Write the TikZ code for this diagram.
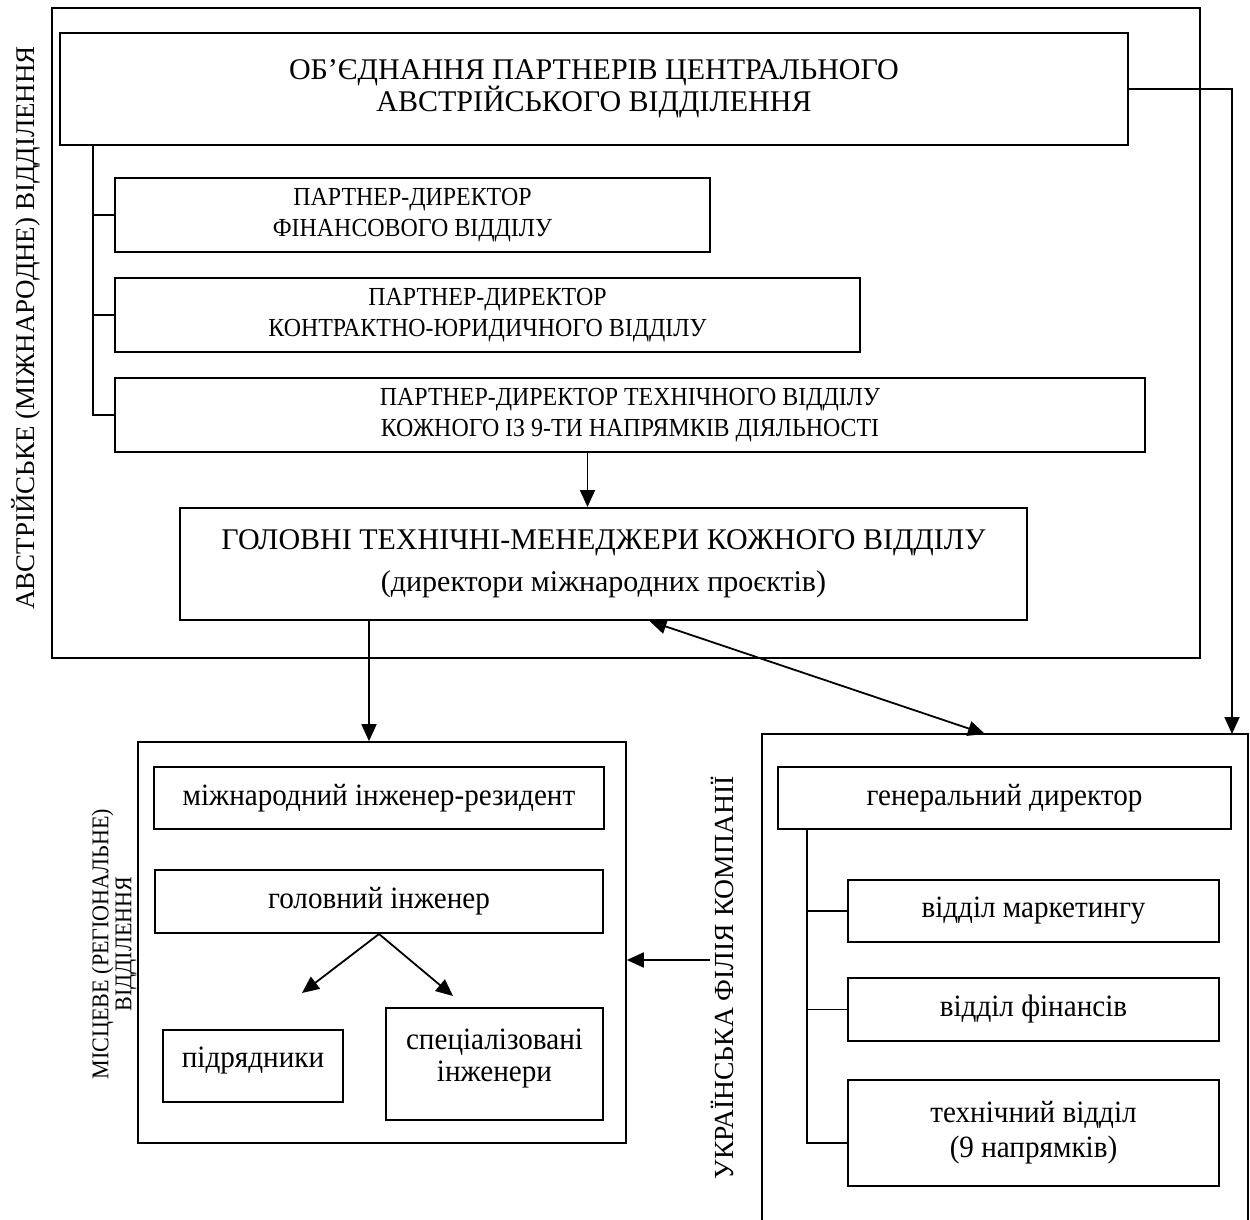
\documentclass[tikz,border=0pt]{standalone}
\usepackage{fontspec}
\setmainfont{Liberation Serif}
\newfontfamily\narrowfont[FakeStretch=0.92]{Liberation Serif}
\newfontfamily\condfont[FakeStretch=0.94]{Liberation Serif}
\usetikzlibrary{arrows.meta}

\tikzset{
  frame/.style = {draw, line width=0.8pt, inner sep=0pt},
  unit/.style = {draw, line width=1pt, inner sep=0pt, align=center},
  sidelabel/.style = {rotate=90, align=center, inner sep=0pt},
  >={Triangle[length=8.5pt, width=7.5pt]},
}

\begin{document}
\begin{tikzpicture}[x=0.5pt, y=-0.5pt, line width=0.9pt]
    \useasboundingbox (0,0) rectangle (1250,1220);

    % Austrian (international) branch
    \node[frame, minimum width=574pt, minimum height=325pt] (austria) at (626,333) {};
    \node[sidelabel, font=\fontsize{13.5}{15}\selectfont] (austrialabel) at (26,328) {АВСТРІЙСЬКЕ (МІЖНАРОДНЕ) ВІДДІЛЕННЯ};

    \node[unit, minimum width=534pt, minimum height=56pt, font=\fontsize{15}{16}\selectfont] (top) at (594,89)
        {ОБ’ЄДНАННЯ ПАРТНЕРІВ ЦЕНТРАЛЬНОГО\\АВСТРІЙСЬКОГО ВІДДІЛЕННЯ};

    % Partner-directors
    \node[unit, minimum width=297.5pt, minimum height=37pt, font=\narrowfont\fontsize{13}{15.5}\selectfont] (pfin) at (412.5,215)
        {ПАРТНЕР-ДИРЕКТОР\\ФІНАНСОВОГО ВІДДІЛУ};
    \node[unit, minimum width=372.5pt, minimum height=37pt, font=\narrowfont\fontsize{13}{15.5}\selectfont] (plaw) at (487.5,315)
        {ПАРТНЕР-ДИРЕКТОР\\КОНТРАКТНО-ЮРИДИЧНОГО ВІДДІЛУ};
    \node[unit, minimum width=515pt, minimum height=37pt, font=\narrowfont\fontsize{13}{15.5}\selectfont] (ptech) at (630,415)
        {ПАРТНЕР-ДИРЕКТОР ТЕХНІЧНОГО ВІДДІЛУ\\КОЖНОГО ІЗ 9-ТИ НАПРЯМКІВ ДІЯЛЬНОСТІ};

    \coordinate (ptrunk) at (93,145);
    \draw (ptrunk) |- (pfin.west);
    \draw (ptrunk) |- (plaw.west);
    \draw (ptrunk) |- (ptech.west);

    % Chief technical managers
    \node[unit, minimum width=423.5pt, minimum height=56pt, font=\fontsize{15}{21}\selectfont] (gm) at (603.5,564)
        {ГОЛОВНІ ТЕХНІЧНІ-МЕНЕДЖЕРИ КОЖНОГО ВІДДІЛУ\\(директори міжнародних проєктів)};
    \draw[->] ([xshift=-8pt]gm.north |- ptech.south) -- ([xshift=-8pt]gm.north);

    % Local (regional) branch
    \node[frame, minimum width=244pt, minimum height=200.5pt] (local) at (382,942.5) {};
    \node[sidelabel, font=\narrowfont\fontsize{12}{11.5}\selectfont] (locallabel) at (114,944) {МІСЦЕВЕ (РЕГІОНАЛЬНЕ)\\ВІДДІЛЕННЯ};

    \node[unit, minimum width=225pt, minimum height=31pt, font=\condfont\fontsize{15.5}{16}\selectfont] (resident) at (379,798)
        {міжнародний інженер-резидент};
    \node[unit, minimum width=224pt, minimum height=31.5pt, font=\condfont\fontsize{15.5}{16}\selectfont] (chief) at (379,901.5)
        {головний інженер};
    \node[unit, minimum width=90pt, minimum height=36pt, text depth=9pt, font=\condfont\fontsize{15.5}{16}\selectfont] (contr) at (253,1066)
        {підрядники};
    \node[unit, minimum width=108.5pt, minimum height=56pt, text depth=8.5pt, font=\condfont\fontsize{15.5}{16}\selectfont] (spec) at (494.5,1064)
        {спеціалізовані\\інженери};

    \coordinate (toContr) at (302,993);
    \coordinate (toSpec) at (453,996);
    \draw[->] (chief.south) -- (toContr);
    \draw[->] (chief.south) -- (toSpec);

    % Ukrainian branch (box runs off the page)
    \coordinate (uatl) at (762,734);
    \coordinate (uatr) at (1248,734);
    \draw[line width=0.8pt] (762,1222) -- (uatl) -- (uatr) -- (1248,1222);
    \node[sidelabel, font=\fontsize{13.8}{15}\selectfont] (ualabel) at (722,978) {УКРАЇНСЬКА ФІЛІЯ КОМПАНІЇ};

    \node[unit, minimum width=226.5pt, minimum height=31pt, font=\condfont\fontsize{15.5}{16}\selectfont] (gd) at (1004.5,798)
        {генеральний директор};
    \node[unit, minimum width=185.5pt, minimum height=31pt, font=\condfont\fontsize{15.5}{16}\selectfont] (mkt) at (1033.5,911)
        {відділ маркетингу};
    \node[unit, minimum width=185.5pt, minimum height=31.5pt, font=\condfont\fontsize{15.5}{16}\selectfont] (fin) at (1033.5,1009.5)
        {відділ фінансів};
    \node[unit, minimum width=185.5pt, minimum height=53pt, font=\condfont\fontsize{15.5}{17.5}\selectfont] (tech) at (1033.5,1133)
        {технічний відділ\\(9 напрямків)};

    \coordinate (gdtrunk) at (807,829);
    \draw (gdtrunk) |- (mkt.west);
    \draw (gdtrunk) |- (fin.west);
    \draw (gdtrunk) |- ([yshift=-5pt]tech.west);

    % Links between branches
    \coordinate (uain) at (1232,734);
    \coordinate (uamid) at (985,734);
    \coordinate (ualink) at (710,960);
    \draw[->] (top.east) -| (uain);
    \draw[->] ([xshift=-6.5pt]local.north |- gm.south) -- ([xshift=-6.5pt]local.north);
    \draw[<->] ([xshift=23pt]gm.south) -- (uamid);
    \draw[->] (ualink) -- (ualink -| local.east);
\end{tikzpicture}
\end{document}
